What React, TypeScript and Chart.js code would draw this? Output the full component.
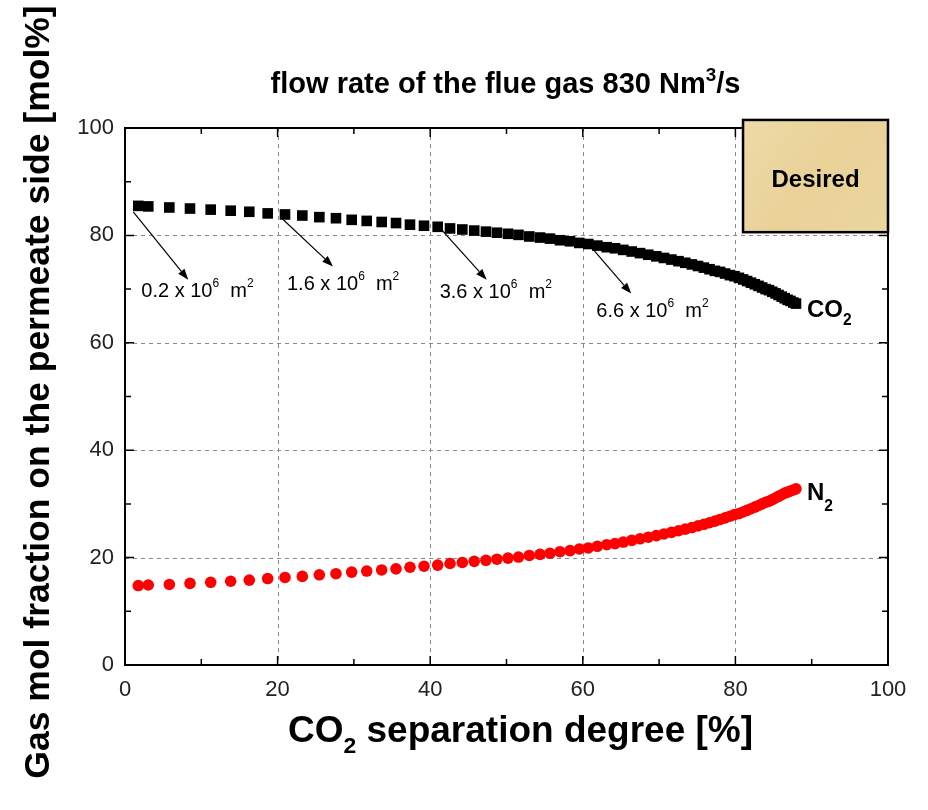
import React, { useEffect, useRef } from "react";
import { Chart, registerables } from "chart.js";

Chart.register(...registerables);

// ---- data ----
const separationDegree = [
  1.74, 3.05, 5.81, 8.52, 11.23, 13.85, 16.29, 18.7, 20.97, 23.24,
  25.47, 27.65, 29.71, 31.68, 33.64, 35.52, 37.35, 39.19, 40.98, 42.6,
  44.21, 45.77, 47.31, 48.75, 50.2, 51.57, 52.99, 54.39, 55.7, 57.01,
  58.32, 59.54, 60.72, 61.9, 63.13, 64.22, 65.31, 66.41, 67.5, 68.58,
  69.63, 70.64, 71.61, 72.54, 73.43, 74.29, 75.1, 75.87, 76.61, 77.31,
  77.99, 78.65, 79.28, 79.88, 80.46, 81.01, 81.53, 82.04, 82.54, 83.03,
  83.5, 83.96, 84.4, 84.84, 85.26, 85.66, 86.07, 86.46, 86.84, 87.22,
  87.59, 87.94,
];
const co2Fraction = [
  85.5, 85.4, 85.2, 85.0, 84.8, 84.6, 84.4, 84.1, 83.9, 83.7,
  83.4, 83.2, 82.9, 82.7, 82.5, 82.3, 82.0, 81.8, 81.6, 81.3,
  81.1, 80.9, 80.7, 80.5, 80.3, 80.1, 79.8, 79.6, 79.4, 79.1,
  78.9, 78.6, 78.4, 78.1, 77.8, 77.6, 77.3, 77.0, 76.7, 76.4,
  76.1, 75.8, 75.5, 75.2, 74.9, 74.6, 74.3, 74.0, 73.7, 73.4,
  73.2, 72.9, 72.6, 72.4, 72.1, 71.8, 71.5, 71.2, 70.9, 70.6,
  70.3, 70.0, 69.8, 69.5, 69.2, 68.9, 68.6, 68.3, 68.0, 67.8,
  67.5, 67.3,
];
const n2Fraction = [
  14.8, 14.9, 15.0, 15.2, 15.4, 15.6, 15.8, 16.1, 16.3, 16.5,
  16.8, 17.0, 17.3, 17.5, 17.7, 17.9, 18.2, 18.4, 18.6, 18.9,
  19.1, 19.3, 19.5, 19.7, 19.9, 20.1, 20.4, 20.6, 20.8, 21.1,
  21.3, 21.6, 21.8, 22.1, 22.4, 22.6, 22.9, 23.2, 23.5, 23.8,
  24.1, 24.4, 24.7, 25.0, 25.3, 25.6, 25.9, 26.2, 26.5, 26.8,
  27.1, 27.4, 27.7, 28.0, 28.2, 28.5, 28.8, 29.1, 29.4, 29.7,
  30.0, 30.3, 30.5, 30.8, 31.1, 31.4, 31.7, 32.0, 32.2, 32.4,
  32.6, 32.8,
];
const majorTicks = [0, 20, 40, 60, 80, 100];
const minorTicks = [0, 10, 20, 30, 40, 50, 60, 70, 80, 90, 100];
const gridValues = [20, 40, 60, 80];
const areaLabels = ["0.2", "1.6", "3.6", "6.6"];
const areaPointIndex = [0, 8, 18, 33];
const chartTitle = "flow rate of the flue gas 830 Nm";
const desiredLabel = "Desired";
const desiredBox = { xMin: 81, xMax: 100, yMin: 80.6, yMax: 101.5 };

const FAM = 'Arial, "Liberation Sans", Helvetica, sans-serif';

type Seg = { t: string; scale?: number; dy?: number };

function drawRich(
  ctx: CanvasRenderingContext2D,
  segs: Seg[],
  x: number,
  y: number,
  size: number,
  weight: string,
  align: "left" | "center"
) {
  ctx.textAlign = "left";
  ctx.textBaseline = "alphabetic";
  const widths = segs.map((s) => {
    ctx.font = `${weight} ${size * (s.scale ?? 1)}px ${FAM}`;
    return ctx.measureText(s.t).width;
  });
  const total = widths.reduce((a, b) => a + b, 0);
  let cx = align === "center" ? x - total / 2 : x;
  segs.forEach((s, i) => {
    ctx.font = `${weight} ${size * (s.scale ?? 1)}px ${FAM}`;
    ctx.fillText(s.t, cx, y + (s.dy ?? 0) * size);
    cx += widths[i];
  });
}

function arrow(ctx: CanvasRenderingContext2D, x1: number, y1: number, x2: number, y2: number) {
  const ang = Math.atan2(y2 - y1, x2 - x1);
  const head = 11;
  const half = 4;
  ctx.beginPath();
  ctx.moveTo(x1, y1);
  ctx.lineTo(x2 - head * Math.cos(ang), y2 - head * Math.sin(ang));
  ctx.stroke();
  ctx.beginPath();
  ctx.moveTo(x2, y2);
  ctx.lineTo(
    x2 - head * Math.cos(ang) + half * Math.sin(ang),
    y2 - head * Math.sin(ang) - half * Math.cos(ang)
  );
  ctx.lineTo(
    x2 - head * Math.cos(ang) - half * Math.sin(ang),
    y2 - head * Math.sin(ang) + half * Math.cos(ang)
  );
  ctx.closePath();
  ctx.fill();
}

// offsets (pixels) of arrow start/end and label relative to the data point
const annotationStyle = [
  { s: [-5, 6], e: [50, 74], l: [3, 91] },
  { s: [-3, 4], e: [48, 52], l: [2, 76] },
  { s: [4, 3], e: [49, 53], l: [2, 71] },
  { s: [-4, 4], e: [34, 48], l: [-1, 71] },
];

const decorPlugin = {
  id: "decor",
  beforeDatasetsDraw(chart: any) {
    const { ctx, chartArea: a, scales } = chart;
    const xs = scales.x;
    const ys = scales.y;
    ctx.save();
    ctx.strokeStyle = "#8a8a8a";
    ctx.lineWidth = 1;
    ctx.setLineDash([4, 4]);
    gridValues.forEach((v) => {
      const px = Math.round(xs.getPixelForValue(v)) + 0.5;
      ctx.beginPath();
      ctx.moveTo(px, a.top);
      ctx.lineTo(px, a.bottom);
      ctx.stroke();
      const py = Math.round(ys.getPixelForValue(v)) + 0.5;
      ctx.beginPath();
      ctx.moveTo(a.left, py);
      ctx.lineTo(a.right, py);
      ctx.stroke();
    });
    ctx.restore();
  },
  afterDraw(chart: any) {
    const { ctx, chartArea: a, scales } = chart;
    const xs = scales.x;
    const ys = scales.y;
    ctx.save();
    // frame
    ctx.strokeStyle = "#000";
    ctx.lineWidth = 2;
    ctx.strokeRect(a.left, a.top, a.right - a.left, a.bottom - a.top);
    // inward ticks
    ctx.lineWidth = 1.5;
    minorTicks.forEach((v) => {
      const len = v % 20 === 0 ? 9 : 6;
      const px = xs.getPixelForValue(v);
      const py = ys.getPixelForValue(v);
      ctx.beginPath();
      ctx.moveTo(px, a.bottom);
      ctx.lineTo(px, a.bottom - len);
      ctx.moveTo(px, a.top);
      ctx.lineTo(px, a.top + len);
      ctx.moveTo(a.left, py);
      ctx.lineTo(a.left + len, py);
      ctx.moveTo(a.right, py);
      ctx.lineTo(a.right - len, py);
      ctx.stroke();
    });

    // Desired box
    const bx1 = xs.getPixelForValue(desiredBox.xMin);
    const bx2 = xs.getPixelForValue(desiredBox.xMax);
    const by1 = ys.getPixelForValue(desiredBox.yMax);
    const by2 = ys.getPixelForValue(desiredBox.yMin);
    const grad = ctx.createLinearGradient(bx1, by1, bx2, by2);
    grad.addColorStop(0, "#eedaa8");
    grad.addColorStop(0.5, "#e9d298");
    grad.addColorStop(1, "#ebd5a0");
    ctx.fillStyle = grad;
    ctx.fillRect(bx1, by1, bx2 - bx1, by2 - by1);
    ctx.lineWidth = 2.5;
    ctx.strokeStyle = "#000";
    ctx.strokeRect(bx1, by1, bx2 - bx1, by2 - by1);
    ctx.fillStyle = "#000";
    ctx.font = `bold 24px ${FAM}`;
    ctx.textAlign = "center";
    ctx.textBaseline = "middle";
    ctx.fillText(desiredLabel, (bx1 + bx2) / 2, (by1 + by2) / 2 + 4);

    // annotations with arrows
    ctx.fillStyle = "#000";
    ctx.strokeStyle = "#000";
    ctx.lineWidth = 1.2;
    areaPointIndex.forEach((idx, i) => {
      const px = xs.getPixelForValue(separationDegree[idx]);
      const py = ys.getPixelForValue(co2Fraction[idx]);
      const st = annotationStyle[i];
      arrow(ctx, px + st.s[0], py + st.s[1], px + st.e[0], py + st.e[1]);
      drawRich(
        ctx,
        [
          { t: `${areaLabels[i]} x 10` },
          { t: "6", scale: 0.6, dy: -0.5 },
          { t: "  m" },
          { t: "2", scale: 0.6, dy: -0.5 },
        ],
        px + st.l[0],
        py + st.l[1],
        20,
        "normal",
        "left"
      );
    });

    // series labels
    const last = separationDegree.length - 1;
    const cx = xs.getPixelForValue(separationDegree[last]);
    const cy = ys.getPixelForValue(co2Fraction[last]);
    drawRich(ctx, [{ t: "CO" }, { t: "2", scale: 0.65, dy: 0.35 }], cx + 11, cy + 13, 24, "bold", "left");
    const ny = ys.getPixelForValue(n2Fraction[last]);
    drawRich(ctx, [{ t: "N" }, { t: "2", scale: 0.65, dy: 0.45 }], cx + 11, ny + 11, 24, "bold", "left");

    // chart title
    drawRich(
      ctx,
      [{ t: chartTitle }, { t: "3", scale: 0.65, dy: -0.4 }, { t: "/s" }],
      (a.left + a.right) / 2 - 1,
      a.top - 35,
      29,
      "bold",
      "center"
    );

    // x-axis title
    drawRich(
      ctx,
      [{ t: "CO" }, { t: "2", scale: 0.62, dy: 0.3 }, { t: " separation degree [%]" }],
      (a.left + a.right) / 2 + 14,
      a.bottom + 77,
      37,
      "bold",
      "center"
    );

    // y-axis title
    ctx.save();
    ctx.translate(49, 392);
    ctx.rotate(-Math.PI / 2);
    drawRich(ctx, [{ t: "Gas mol fraction on the permeate side [mol%]" }], 0, 0, 35.5, "bold", "center");
    ctx.restore();

    ctx.restore();
  },
};

export default function App() {
  const ref = useRef<HTMLCanvasElement | null>(null);

  useEffect(() => {
    if (!ref.current) return;
    const chart = new Chart(ref.current, {
      type: "scatter",
      data: {
        datasets: [
          {
            label: "CO2",
            data: separationDegree.map((x, i) => ({ x, y: co2Fraction[i] })),
            pointStyle: "rect",
            pointRadius: 7.5,
            pointBackgroundColor: "#000",
            pointBorderWidth: 0,
            borderColor: "#000",
            showLine: false,
          },
          {
            label: "N2",
            data: separationDegree.map((x, i) => ({ x, y: n2Fraction[i] })),
            pointStyle: "circle",
            pointRadius: 5.8,
            pointBackgroundColor: "#ff0000",
            pointBorderWidth: 0,
            borderColor: "#ff0000",
            showLine: false,
          },
        ],
      },
      options: {
        animation: false,
        responsive: false,
        devicePixelRatio: 1,
        layout: { padding: { top: 128, right: 40, left: 0, bottom: 0 } },
        plugins: {
          legend: { display: false },
          tooltip: { enabled: false },
          title: { display: false },
        },
        scales: {
          x: {
            type: "linear",
            min: 0,
            max: 100,
            afterFit: (s: any) => {
              s.height = 145;
            },
            afterBuildTicks: (s: any) => {
              s.ticks = majorTicks.map((v) => ({ value: v }));
            },
            grid: { display: false, drawTicks: false },
            border: { display: false },
            ticks: {
              padding: 12,
              color: "#222",
              font: { family: FAM, size: 22 },
              maxRotation: 0,
            },
          },
          y: {
            type: "linear",
            min: 0,
            max: 100,
            afterFit: (s: any) => {
              s.width = 125;
            },
            afterBuildTicks: (s: any) => {
              s.ticks = majorTicks.map((v) => ({ value: v }));
            },
            grid: { display: false, drawTicks: false },
            border: { display: false },
            ticks: {
              padding: 11,
              color: "#222",
              font: { family: FAM, size: 22 },
            },
          },
        },
      },
      plugins: [decorPlugin],
    });
    return () => chart.destroy();
  }, []);

  return (
    <canvas
      ref={ref}
      width={928}
      height={810}
      style={{ position: "absolute", left: 0, top: 0, width: 928, height: 810 }}
    />
  );
}
